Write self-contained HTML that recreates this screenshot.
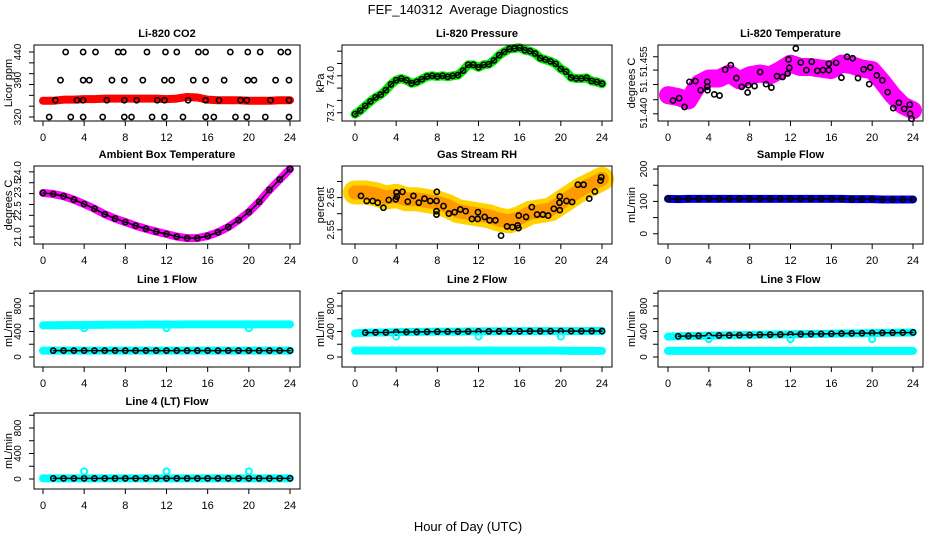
<!DOCTYPE html>
<html><head><meta charset="utf-8">
<style>
html,body{margin:0;padding:0;background:#fff;}
svg{display:block;font-family:"Liberation Sans",sans-serif;}
</style></head>
<body>
<svg id="chart" width="936" height="540" viewBox="0 0 936 540">
<rect x="0" y="0" width="936" height="540" fill="#fff"/>
<text x="468" y="14" text-anchor="middle" font-size="13">FEF_140312&#160; Average Diagnostics</text>
<text x="468" y="531" text-anchor="middle" font-size="13">Hour of Day (UTC)</text>
</svg>
<script>
// ---------- data ----------
const hours25 = [0,1,2,3,4,5,6,7,8,9,10,11,12,13,14,15,16,17,18,19,20,21,22,23,24];
const xTicks = [0,4,8,12,16,20,24];

const co2BlackHours = [2.2,3.9,5.1,7.3,7.8,10.1,11.9,13.0,15.1,15.8,18.2,19.9,21.1,23.1,23.8,
 1.7,3.9,4.5,6.7,7.9,9.7,11.8,12.5,14.6,15.8,17.6,19.9,20.5,22.6,23.9,
 1.2,3.3,3.9,6.2,7.9,9.1,11.1,11.8,14.1,15.8,17.1,19.2,19.8,22.1,23.9,
 0.6,2.7,3.9,5.8,7.9,8.6,10.6,11.8,13.6,15.8,16.6,18.7,19.8,21.6,23.9];
const co2BlackVals = [440,440,440,440,440,440,440,440,440,440,440,440,440,440,440,
 388,388,388,388,388,388,388,388,388,388,388,388,388,388,388,
 351,351,351,351,351,351,351,351,351,351,351,351,351,351,351,
 320,320,320,320,320,320,320,320,320,320,320,320,320,320,320];
const co2RedVals = [350,350,352,352,353,353,354,354,354,354,354,354,353,354,357,356,352,351,351,351,350,350,350,351,351];

const presHours = [0,0.5,1,1.5,2,2.5,3,3.5,4,4.5,5,5.5,6,6.5,7,7.5,8,8.5,9,9.5,10,10.5,11,11.5,12,12.5,13,13.5,14,14.5,15,15.5,16,16.5,17,17.5,18,18.5,19,19.5,20,20.5,21,21.5,22,22.5,23,23.5,24];
const presVals = [73.689,73.717,73.756,73.792,73.825,73.847,73.883,73.931,73.964,73.978,73.964,73.939,73.950,73.972,73.994,74.0,73.994,74.0,73.992,74.0,74.006,74.042,74.089,74.089,74.069,74.089,74.094,74.125,74.167,74.194,74.217,74.222,74.228,74.208,74.2,74.181,74.144,74.131,74.117,74.097,74.056,74.033,73.986,73.978,73.978,73.983,73.958,73.95,73.936];

const tempBlackHours = [0.49,1.10,1.62,2.10,2.69,3.20,3.85,3.85,3.87,4.53,5.05,5.60,6.15,6.70,7.22,7.80,7.86,8.48,9.03,9.61,10.13,10.68,11.23,11.72,11.81,11.88,12.52,13.01,13.56,14.08,14.63,15.18,15.76,15.76,16.47,16.99,17.54,18.09,18.61,19.16,19.71,19.81,20.45,21.00,21.52,22.07,22.62,23.14,23.69,23.72,23.85];
const tempBlackVals = [51.4435,51.4441,51.4418,51.4484,51.4486,51.4462,51.4484,51.4471,51.4462,51.4451,51.4448,51.4516,51.4528,51.4494,51.4471,51.4456,51.4475,51.4473,51.4510,51.4478,51.4469,51.4499,51.4497,51.4506,51.4543,51.4521,51.4572,51.4535,51.4515,51.4537,51.4513,51.4515,51.4515,51.4532,51.4534,51.4495,51.4550,51.4546,51.4494,51.4517,51.4478,51.4522,51.4501,51.4488,51.4457,51.4415,51.4429,51.4413,51.4424,51.4400,51.4387];
const tempMagVals = [51.4449,51.4444,51.4435,51.4479,51.4493,51.4493,51.4506,51.4488,51.4501,51.4506,51.4501,51.4515,51.4532,51.4523,51.4523,51.4519,51.4515,51.4532,51.4528,51.4519,51.4515,51.4484,51.4449,51.4422,51.4409];

const ambVals = [23.03,22.98,22.88,22.72,22.52,22.30,22.05,21.85,21.69,21.52,21.38,21.25,21.14,21.02,20.95,20.95,21.05,21.22,21.46,21.78,22.15,22.62,23.17,23.65,24.13];

const rhCloudVals = [2.6658,2.6658,2.6605,2.65,2.6553,2.6447,2.6447,2.6395,2.6342,2.6237,2.6079,2.6026,2.5974,2.5921,2.5816,2.5763,2.5868,2.6026,2.6079,2.6132,2.6342,2.6553,2.6763,2.6921,2.7079];
const rhBlackHours = [0.58,1.14,1.72,2.21,2.76,3.28,3.96,4.03,4.06,4.61,5.13,5.68,6.20,6.75,7.31,7.92,7.92,7.92,7.95,8.60,9.12,9.68,10.23,10.75,11.36,11.92,11.95,12.60,13.08,13.64,14.19,14.77,15.29,15.81,15.91,15.88,16.62,17.18,17.69,18.25,18.77,19.32,19.87,19.90,19.90,20.55,21.10,21.66,22.21,22.76,23.31,23.86,23.93];
const rhBlackVals = [2.6553,2.6395,2.6395,2.6342,2.6184,2.6426,2.6447,2.6658,2.6532,2.6679,2.6374,2.6553,2.6342,2.6468,2.6395,2.6395,2.6079,2.5974,2.6679,2.6237,2.6005,2.6047,2.6132,2.6079,2.5837,2.5837,2.6047,2.59,2.5795,2.5795,2.5321,2.5605,2.5584,2.5637,2.5942,2.5553,2.59,2.6205,2.5974,2.5974,2.5942,2.6153,2.6342,2.6532,2.6110,2.6395,2.6363,2.69,2.69,2.6468,2.6689,2.7026,2.7132];

const sampleBlueVals = [108,107,108,108,108,108,108,108,108,108,108,108,108,108,108,108,108,108,107,107,107,106,106,106,106];
const sampleBlackVals = [108,107,108,108,108,108,108,108,108,108,108,108,108,108,108,108,108,108,107,107,107,106,106,106,106];

const line1CyanHigh = [495,497,500,500,502,503,505,507,508,508,510,510,510,510,511,512,512,512,512,512,512,512,512,512,512];
const line1CyanLow = [100,100,100,100,100,100,100,100,100,100,100,100,100,100,100,100,100,100,100,100,100,100,100,100,100];
const line1Black = [100,100,100,100,100,100,100,100,100,100,100,100,100,100,100,100,100,100,100,100,100,100,100,100,100];
const line1OutHours = [4,12,20];
const line1OutVals = [450,450,450];

const line2CyanHigh = [370,380,385,385,390,392,393,395,397,398,398,400,402,402,403,403,404,405,405,406,406,406,406,407,407];
const line2CyanLow = [100,100,100,100,100,100,100,100,100,100,100,100,100,100,100,100,100,100,100,100,100,95,95,95,95];
const line2Black = [380,382,385,385,390,392,393,395,397,398,398,400,402,402,403,403,404,405,405,406,406,406,406,407,407];
const line2OutHours = [4,12,20];
const line2OutVals = [320,320,320];

const line3CyanHigh = [320,325,330,332,335,338,340,343,345,348,350,352,355,358,360,362,365,368,370,372,375,378,380,382,385];
const line3CyanLow = [95,95,95,95,95,95,95,95,95,95,95,95,95,95,95,95,95,95,95,95,95,95,95,95,95];
const line3Black = [320,325,330,332,335,338,340,343,345,348,350,352,355,358,360,362,365,368,370,372,375,378,380,382,385];
const line3OutHours = [4,12,20];
const line3OutVals = [280,280,280];

const line4CyanLow = [10,10,10,10,10,10,10,10,10,10,10,10,10,10,10,10,10,10,10,10,10,10,10,10,10];
const line4Black = [10,10,10,10,10,10,10,10,10,10,10,10,10,10,10,10,10,10,10,10,10,10,10,10,10];
const line4OutHours = [4,12,20];
const line4OutVals = [120,120,120];

// ---------- drawing ----------
const NS = 'http://www.w3.org/2000/svg';
const svg = document.getElementById('chart');
function el(tag, attrs, parent) {
  const e = document.createElementNS(NS, tag);
  for (const k in attrs) e.setAttribute(k, attrs[k]);
  (parent || svg).appendChild(e);
  return e;
}
const cols = [
  {bx0:34, bx1:300, x0:43, x24:290, labX:17, ylabX:8},
  {bx0:342, bx1:612, x0:355, x24:602, labX:330, ylabX:320},
  {bx0:658, bx1:923, x0:668, x24:913, labX:643, ylabX:631}
];
const rows = [[45,121],[166,244],[291,367],[413,489]];

function makePanel(name, col, row, title, ylab, dom, yTicks, yLabels) {
  const c = cols[col], r = rows[row];
  const g = el('g', {});
  
  
  const xs = h => c.x0 + h * (c.x24 - c.x0) / 24;
  const ys = v => r[0] + (dom[1] - v) / (dom[1] - dom[0]) * (r[1] - r[0]);
  const t = el('text', {x:(c.bx0+c.bx1)/2, y:r[0]-8, 'text-anchor':'middle', 'font-size':11, 'font-weight':'bold'}, g);
  t.textContent = title;
  
  
  const xa = el('g', {}, g);
  
  
  el('line', {x1:xs(0), x2:xs(24), y1:r[1], y2:r[1], stroke:'#000'}, xa);
  xTicks.forEach(h => {
    el('line', {x1:xs(h), x2:xs(h), y1:r[1], y2:r[1]+5, stroke:'#000'}, xa);
    const tl = el('text', {x:xs(h), y:r[1]+20, 'text-anchor':'middle', 'font-size':11}, xa);
    tl.textContent = h;
    
    
  });
  const ya = el('g', {}, g);
  
  
  el('line', {x1:c.bx0, x2:c.bx0, y1:ys(yTicks[0]), y2:ys(yTicks[yTicks.length-1]), stroke:'#000'}, ya);
  yTicks.forEach(v => el('line', {x1:c.bx0-5, x2:c.bx0, y1:ys(v), y2:ys(v), stroke:'#000'}, ya));
  yLabels.forEach(p => {
    const yl = el('text', {x:0, y:0, 'text-anchor':'middle', 'font-size':10, transform:`translate(${c.labX+4},${ys(p[0])}) rotate(-90)`}, ya);
    yl.textContent = p[1];
    
    
  });
  const yt = el('text', {x:0, y:0, 'text-anchor':'middle', 'font-size':11, transform:`translate(${c.ylabX+4},${(r[0]+r[1])/2}) rotate(-90)`}, g);
  yt.textContent = ylab;
  
  
  const plot = el('g', {}, g);
  
  
  el('rect', {x:c.bx0, y:r[0], width:c.bx1-c.bx0, height:r[1]-r[0], fill:'none', stroke:'#000'}, g);
  return {plot, xs, ys};
}
function band(p, hs, vs, color, w, name, dash) {
  const pl = el('polyline', {points: hs.map((h,i)=>p.xs(h)+','+p.ys(vs[i])).join(' '), fill:'none', stroke:color, 'stroke-width':w, 'stroke-linecap':'round', 'stroke-linejoin':'round'}, p.plot);
  if (dash) pl.setAttribute('stroke-dasharray', dash);
  
  
}
function dots(p, hs, vs, color, rad, sw, name) {
  const g = el('g', {}, p.plot);
  
  
  hs.forEach((h,i) => {
    const ci = el('circle', {cx:p.xs(h), cy:p.ys(vs[i]), r:rad, fill:'none', stroke:color, 'stroke-width':sw}, g);
    
    
  });
}
function chain(p, hs, vs, name) {
  band(p, hs, vs, '#000', 1.5, name + '-line');
  dots(p, hs, vs, '#000', 2.6, 1.6, name);
}

let p = makePanel('co2', 0, 0, 'Li-820 CO2', 'Licor ppm', [312.6, 453], [320,340,360,380,400,420,440], [[320,'320'],[388,'390'],[440,'440']]);
band(p, hours25, co2RedVals, '#ff0000', 8, 'co2-red-series');
dots(p, co2BlackHours, co2BlackVals, '#000', 2.6, 1.6, 'co2-black-series');

p = makePanel('pressure', 1, 0, 'Li-820 Pressure', 'kPa', [73.633, 74.25], [73.7,73.8,73.9,74.0,74.1,74.2], [[73.7,'73.7'],[74.0,'74.0']]);
band(p, presHours, presVals, '#00ee00', 9, 'pressure-green-series');
chain(p, presHours, presVals, 'pressure-black-series');

p = makePanel('li820-temp', 2, 0, 'Li-820 Temperature', 'degrees C', [51.4381, 51.4581], [51.440,51.4437,51.4477,51.4515,51.455], [[51.4402,'51.440'],[51.4474,'51.'],[51.4537,'51.455']]);
band(p, hours25, tempMagVals, '#ff00ff', 18, 'li820-temp-magenta-series');
dots(p, hours25, tempMagVals, '#ff00ff', 3, 1.5, 'li820-temp-magenta-points');
dots(p, tempBlackHours, tempBlackVals, '#000', 2.6, 1.6, 'li820-temp-black-series');

p = makePanel('ambient-temp', 0, 1, 'Ambient Box Temperature', 'degrees C', [20.68, 24.27], [21,21.5,22,22.5,23,23.5,24], [[21.0,'21.0'],[22.2,'22.5'],[23.25,'23.5'],[24.05,'24.0']]);
band(p, hours25, ambVals, '#ff00ff', 8, 'ambient-magenta-series');
chain(p, hours25, ambVals, 'ambient-black-series');

p = makePanel('gas-rh', 1, 1, 'Gas Stream RH', 'percent', [2.506, 2.748], [2.55,2.60,2.65,2.70], [[2.55,'2.55'],[2.65,'2.65']]);
band(p, hours25, rhCloudVals, '#ffd200', 24, 'gas-rh-yellow-series');
band(p, hours25, rhCloudVals, '#ff9900', 14, 'gas-rh-orange-series', '2 3');
dots(p, rhBlackHours, rhBlackVals, '#000', 2.6, 1.6, 'gas-rh-black-series');

p = makePanel('sample-flow', 2, 1, 'Sample Flow', 'mL/min', [-31.7, 209.5], [0,50,100,150,200], [[0,'0'],[100,'100'],[200,'200']]);
band(p, hours25, sampleBlueVals, '#0000ee', 8, 'sample-flow-blue-series');
chain(p, hours25, sampleBlackVals, 'sample-flow-black-series');

const flowDom = [-157, 1035], flowTicks = [0,200,400,600,800,1000], flowLabels = [[0,'0'],[400,'400'],[800,'800']];
p = makePanel('line1-flow', 0, 2, 'Line 1 Flow', 'mL/min', flowDom, flowTicks, flowLabels);
band(p, hours25, line1CyanHigh, '#00ffff', 8, 'line1-cyan-high-series');
band(p, hours25, line1CyanLow, '#00ffff', 8, 'line1-cyan-low-series');
chain(p, hours25.slice(1), line1Black.slice(1), 'line1-black-series');
dots(p, line1OutHours, line1OutVals, '#00ffff', 3, 2, 'line1-cyan-outliers');

p = makePanel('line2-flow', 1, 2, 'Line 2 Flow', 'mL/min', flowDom, flowTicks, flowLabels);
band(p, hours25, line2CyanHigh, '#00ffff', 8, 'line2-cyan-high-series');
band(p, hours25, line2CyanLow, '#00ffff', 8, 'line2-cyan-low-series');
chain(p, hours25.slice(1), line2Black.slice(1), 'line2-black-series');
dots(p, line2OutHours, line2OutVals, '#00ffff', 3, 2, 'line2-cyan-outliers');

p = makePanel('line3-flow', 2, 2, 'Line 3 Flow', 'mL/min', flowDom, flowTicks, flowLabels);
band(p, hours25, line3CyanHigh, '#00ffff', 8, 'line3-cyan-high-series');
band(p, hours25, line3CyanLow, '#00ffff', 8, 'line3-cyan-low-series');
chain(p, hours25.slice(1), line3Black.slice(1), 'line3-black-series');
dots(p, line3OutHours, line3OutVals, '#00ffff', 3, 2, 'line3-cyan-outliers');

p = makePanel('line4-flow', 0, 3, 'Line 4 (LT) Flow', 'mL/min', flowDom, flowTicks, flowLabels);
band(p, hours25, line4CyanLow, '#00ffff', 8, 'line4-cyan-series');
chain(p, hours25.slice(1), line4Black.slice(1), 'line4-black-series');
dots(p, line4OutHours, line4OutVals, '#00ffff', 3, 2, 'line4-cyan-outliers');
</script>
</body></html>
